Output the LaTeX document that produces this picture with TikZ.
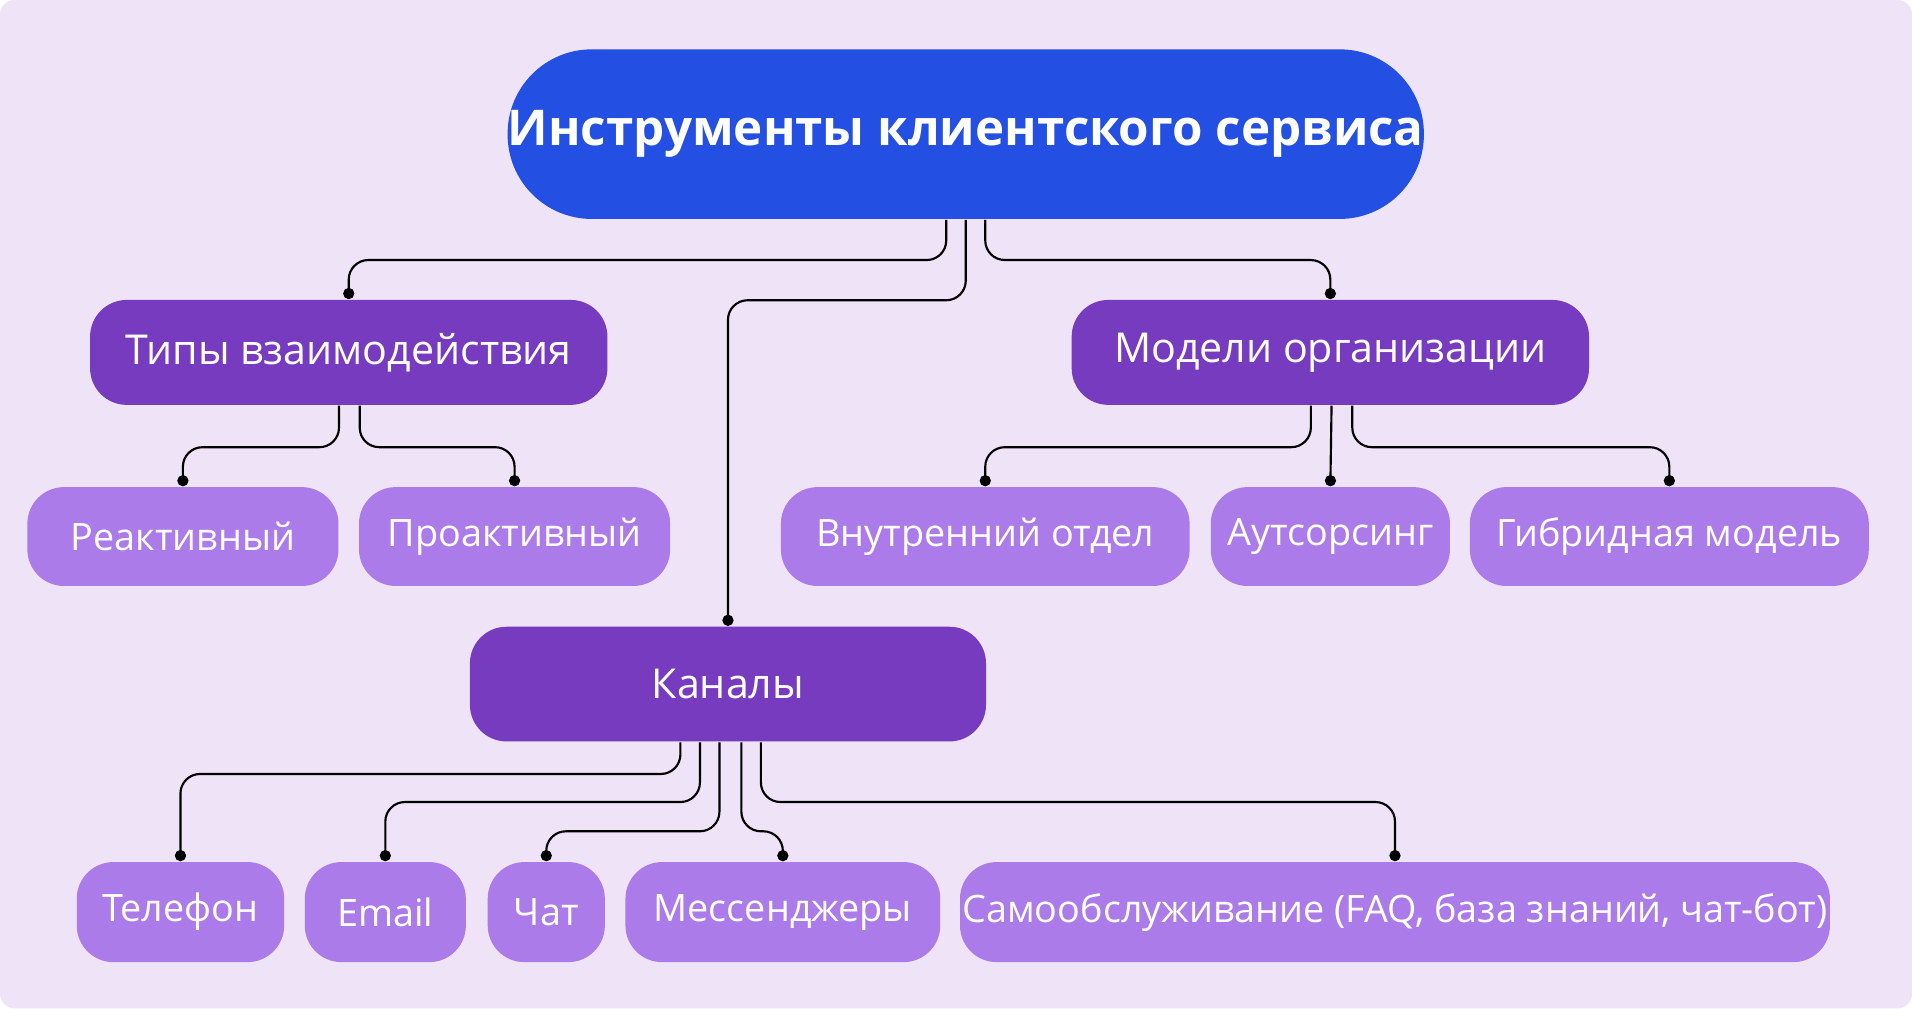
\documentclass[tikz,border=0pt]{standalone}
\usepackage{fontspec}
\setmainfont{Open Sans}
\usetikzlibrary{calc,arrows.meta}
\definecolor{bgc}{HTML}{EFE3F7}
\definecolor{rootc}{HTML}{234FE2}
\definecolor{midc}{HTML}{763BBE}
\definecolor{leafc}{HTML}{AB7BE9}
\tikzset{
  box/.style={rounded corners=0.3cm, text=white, inner sep=0pt},
  rootbox/.style={box, fill=rootc, rounded corners=0.69cm, font=\fontsize{11.5}{13}\selectfont\bfseries},
  midbox/.style={box, fill=midc, font=\fontsize{9.6}{11}\selectfont},
  leafbox/.style={box, fill=leafc, font=\fontsize{8.8}{10}\selectfont},
  conn/.style={draw=black, line width=0.5pt, rounded corners=0.16cm, -{Circle[length=2.6pt]}},
}
\begin{document}
\begin{tikzpicture}[x=0.01cm, y=-0.01cm]
    \fill[bgc, rounded corners=0.12cm] (0,0) rectangle (1568,827);
    \useasboundingbox (0,0) rectangle (1568,827);
    % levels
    \node[rootbox, minimum width=7.48cm, minimum height=1.39cm] (root) at (792,110) {Инструменты клиентского сервиса};
    \node[midbox, minimum width=4.24cm, minimum height=0.86cm] (types) at (286,289) {Типы взаимодействия};
    \node[midbox, minimum width=4.24cm, minimum height=0.86cm] (models) at (1091,289) {Модели организации};
    \node[midbox, minimum width=4.23cm, minimum height=0.94cm] (chan) at (597,561) {Каналы};
    % leaves
    \node[leafbox, minimum width=2.55cm, minimum height=0.81cm] (react) at (150,440) {Реактивный};
    \node[leafbox, minimum width=2.55cm, minimum height=0.81cm] (proact) at (422,440) {Проактивный};
    \node[leafbox, minimum width=3.35cm, minimum height=0.81cm] (inner) at (808,440) {Внутренний отдел};
    \node[leafbox, minimum width=1.96cm, minimum height=0.81cm] (outs) at (1091,440) {Аутсорсинг};
    \node[leafbox, minimum width=3.27cm, minimum height=0.81cm] (hybrid) at (1369,440) {Гибридная модель};
    \node[leafbox, minimum width=1.70cm, minimum height=0.82cm] (phone) at (148,748) {Телефон};
    \node[leafbox, minimum width=1.32cm, minimum height=0.82cm] (email) at (316,748) {Email};
    \node[leafbox, minimum width=0.96cm, minimum height=0.82cm] (chat) at (448,748) {Чат};
    \node[leafbox, minimum width=2.58cm, minimum height=0.82cm] (msg) at (642,748) {Мессенджеры};
    \node[leafbox, minimum width=7.13cm, minimum height=0.82cm] (self) at (1144,748) {Самообслуживание (FAQ, база знаний, чат-бот)};
    % connectors
    \draw[conn] ($(root.south)+(-16,0)$) -- ++(0,33) -| (types.north);
    \draw[conn] ($(root.south)+(16,0)$) -- ++(0,33) -| (models.north);
    \draw[conn] (root.south) -- ++(0,66) -| (chan.north);
    \draw[conn] ($(types.south)+(-8,0)$) -- ++(0,34) -| (react.north);
    \draw[conn] ($(types.south)+(9,0)$) -- ++(0,34) -| (proact.north);
    \draw[conn] ($(models.south)+(-16,0)$) -- ++(0,34) -| (inner.north);
    \draw[conn] ($(models.south)+(1,0)$) -- (outs.north);
    \draw[conn] ($(models.south)+(18,0)$) -- ++(0,34) -| (hybrid.north);
    \draw[conn] ($(chan.south)+(-39,0)$) -- ++(0,26) -| (phone.north);
    \draw[conn] ($(chan.south)+(-23,0)$) -- ++(0,49) -| (email.north);
    \draw[conn] ($(chan.south)+(-7,0)$) -- ++(0,73) -| (chat.north);
    \draw[conn] ($(chan.south)+(11,0)$) -- ++(0,73) -| (msg.north);
    \draw[conn] ($(chan.south)+(27,0)$) -- ++(0,49) -| (self.north);
\end{tikzpicture}
\end{document}
